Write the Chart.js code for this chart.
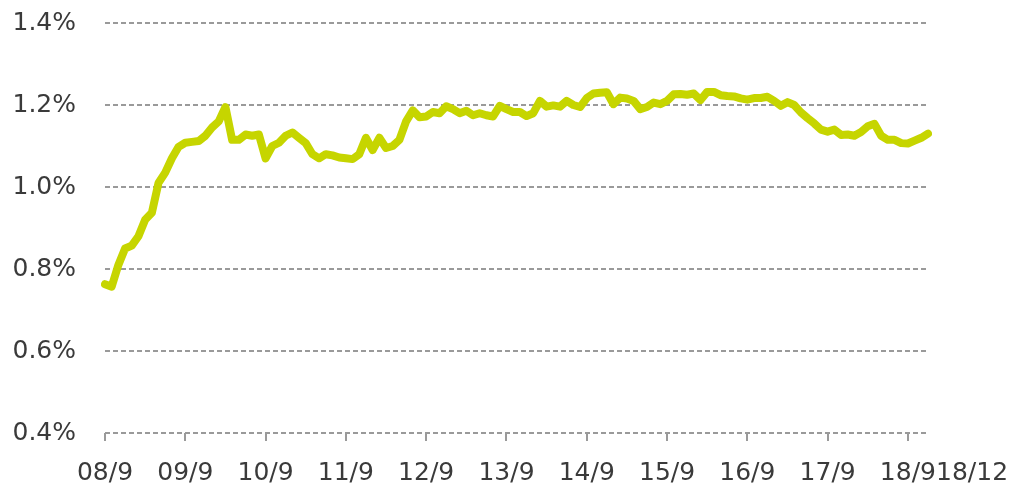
<!DOCTYPE html>
<html>
<head>
<meta charset="utf-8">
<script src="https://cdn.jsdelivr.net/npm/chart.js@4.4.0/dist/chart.umd.min.js"></script>
<style>
  html, body { margin: 0; padding: 0; background: #fff; }
  #wrap { width: 1020px; height: 483px; }
</style>
</head>
<body>
<div id="wrap"><canvas id="c"></canvas></div>
<script>
// monthly, 2008/9 .. 2018/12
const startYear = 8, startMonth = 9, monthCount = 124;
const months = [];
for (let i = 0; i < monthCount; i++) {
    const m = (startMonth - 1 + i) % 12 + 1;
    const y = startYear + Math.floor((startMonth - 1 + i) / 12);
    months.push(String(y).padStart(2, '0') + '/' + m);
}

const ratio = [
    0.763, 0.757, 0.81, 0.85, 0.857, 0.88, 0.92, 0.937, 1.01, 1.035, 1.07, 1.098,
    1.108, 1.11, 1.112, 1.125, 1.145, 1.16, 1.195, 1.115, 1.115, 1.128, 1.125, 1.128,
    1.07, 1.10, 1.108, 1.125, 1.133, 1.12, 1.107, 1.08, 1.07, 1.08, 1.077, 1.072,
    1.07, 1.068, 1.08, 1.12, 1.09, 1.12, 1.095, 1.10, 1.115, 1.16, 1.187, 1.17,
    1.172, 1.183, 1.18, 1.197, 1.19, 1.18, 1.186, 1.175, 1.18, 1.175, 1.172, 1.198,
    1.19, 1.183, 1.183, 1.173, 1.18, 1.21, 1.196, 1.199, 1.196, 1.21, 1.20, 1.195,
    1.217, 1.228, 1.23, 1.231, 1.202, 1.218, 1.216, 1.21, 1.19, 1.195, 1.206, 1.202,
    1.21, 1.226, 1.227, 1.225, 1.228, 1.212, 1.232, 1.232, 1.224, 1.222, 1.221, 1.216,
    1.213, 1.217, 1.217, 1.22, 1.21, 1.198, 1.207, 1.2, 1.182, 1.168, 1.155, 1.14,
    1.135, 1.14, 1.127, 1.128, 1.125, 1.134, 1.148, 1.154, 1.125, 1.115, 1.115, 1.107,
    1.106, 1.113, 1.12, 1.13
];

const tickLabels = ['08/9', '09/9', '10/9', '11/9', '12/9', '13/9', '14/9', '15/9', '16/9', '17/9', '18/9'];
const endLabel = '18/12';

const font = { family: 'DejaVu Sans', size: 25 };
const textColor = '#3a3a3a';
const xTickLen = 8, xTickPad = 17;

// Excel squeezed the last category label in right after 18/9
const endLabelPlugin = {
    id: 'endLabel',
    afterDraw(chart) {
        const xs = chart.scales.x;
        const ctx = chart.ctx;
        const lastIdx = months.indexOf(tickLabels[tickLabels.length - 1]);
        const cx = xs.getPixelForValue(lastIdx);
        ctx.save();
        ctx.font = font.size + 'px ' + font.family;
        const w1 = ctx.measureText(tickLabels[tickLabels.length - 1]).width;
        const w2 = ctx.measureText(endLabel).width;
        ctx.fillStyle = textColor;
        ctx.textAlign = 'center';
        ctx.textBaseline = 'middle';
        ctx.fillText(endLabel, cx + w1 / 2 + w2 / 2, xs.top + xTickLen + xTickPad + font.size * 1.2 / 2);
        ctx.restore();
    }
};

new Chart(document.getElementById('c'), {
    type: 'line',
    data: {
        labels: months,
        datasets: [{
            data: ratio,
            borderColor: '#c6d500',
            borderWidth: 8,
            borderJoinStyle: 'round',
            borderCapStyle: 'round',
            pointRadius: 0,
            tension: 0,
            fill: false
        }]
    },
    options: {
        responsive: true,
        maintainAspectRatio: false,
        animation: false,
        layout: { padding: { top: 23, right: 92, bottom: 0, left: 0 } },
        plugins: { legend: { display: false }, tooltip: { enabled: false } },
        scales: {
            x: {
                offset: false,
                border: { display: false },
                grid: { drawOnChartArea: false, drawTicks: true, tickLength: xTickLen, color: '#9a9a9a', lineWidth: 2 },
                ticks: {
                    autoSkip: false, maxRotation: 0, padding: xTickPad,
                    font: font, color: textColor
                },
                afterBuildTicks(scale) {
                    scale.ticks = scale.ticks.filter(t => tickLabels.includes(months[t.value]));
                },
                afterFit(scale) { scale.height = 50; }
            },
            y: {
                min: 0.4, max: 1.4,
                border: { display: false, dash: [5, 3] },
                // invisible tick marks just push the labels left
                grid: { drawTicks: true, tickLength: 26, tickColor: 'rgba(0,0,0,0)', color: '#9a9a9a', lineWidth: 2 },
                ticks: {
                    stepSize: 0.2, padding: 3,
                    font: font, color: textColor,
                    callback: v => v.toFixed(1) + '%'
                },
                afterFit(scale) { scale.width = 105; }
            }
        }
    },
    plugins: [endLabelPlugin]
});
</script>
</body>
</html>
